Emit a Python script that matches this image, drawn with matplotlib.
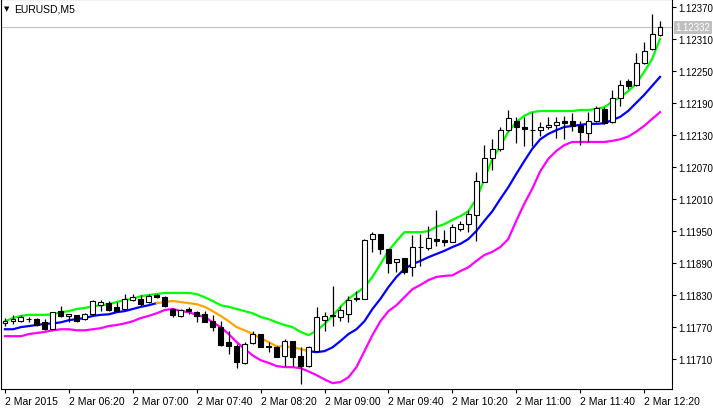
import numpy as np
import matplotlib
matplotlib.use('Agg')
import matplotlib.pyplot as plt

plt.rcParams['font.family'] = ['Liberation Sans', 'DejaVu Sans']

BASE = 1.11700  # prices below are in points (1e-5) above this

# OHLC, one entry per M5 bar
opens = [78, 81, 81, 85, 85, 79, 66, 100, 91, 92,
         85, 94, 111, 115, 108, 104, 121, 123, 117, 130,
         126, 104, 91, 104, 98, 94, 81, 70, 42, 34,
         2, 40, 57, 34, 32, 16, 44, 16, -3, 25,
         83, 91, 89, 94, 122, 122, 235, 244, 216, 192,
         199, 183, 220, 218, 235, 233, 229, 254, 263, 280,
         342, 387, 404, 439, 456, 445, 439, 439, 445, 449,
         456, 456, 449, 434, 456, 479, 454, 499, 531, 524,
         565, 591, 617]
highs = [87, 93, 93, 89, 87, 85, 98, 109, 94, 92,
         96, 121, 121, 119, 117, 132, 132, 130, 132, 132,
         128, 106, 104, 108, 100, 100, 93, 81, 62, 38,
         42, 62, 57, 42, 34, 47, 44, 33, 34, 108,
         98, 147, 109, 128, 138, 235, 248, 244, 216, 197,
         199, 243, 244, 259, 289, 252, 263, 269, 289, 361,
         411, 422, 445, 477, 464, 464, 473, 454, 464, 464,
         466, 471, 456, 473, 484, 482, 514, 533, 535, 584,
         604, 657, 644]
lows = [72, 76, 79, 79, 72, 64, 66, 89, 79, 79,
        83, 92, 100, 100, 98, 104, 119, 109, 115, 124,
        108, 89, 89, 94, 79, 79, 62, 34, 19, -7,
        1, 38, 32, 23, 14, -3, -3, -37, -5, 23,
        62, 72, 81, 79, 119, 122, 211, 207, 171, 173,
        169, 166, 184, 214, 222, 222, 229, 250, 248, 231,
        342, 364, 400, 437, 415, 409, 409, 428, 441, 424,
        422, 437, 411, 417, 454, 451, 452, 484, 516, 522,
        563, 589, 616]
closes = [81, 85, 89, 86, 74, 66, 98, 91, 94, 81,
          94, 119, 117, 102, 100, 123, 126, 113, 128, 126,
          109, 93, 102, 100, 91, 79, 70, 36, 34, 4,
          38, 57, 32, 32, 14, 44, 14, -3, 32, 89,
          91, 93, 102, 121, 124, 233, 244, 216, 190, 197,
          173, 220, 221, 237, 231, 229, 258, 263, 282, 344,
          387, 404, 439, 462, 445, 441, 440, 445, 449, 454,
          453, 447, 436, 456, 481, 453, 499, 524, 522, 565,
          587, 619, 632]

# channel: upper, middle, lower
upper = [81, 87, 91, 93, 93, 93, 94, 98, 100, 104,
         106, 109, 111, 113, 117, 121, 123, 128, 130, 132,
         134, 134, 134, 134, 132, 126, 119, 111, 108, 104,
         100, 96, 89, 85, 79, 74, 70, 61, 55, 63,
         76, 91, 108, 123, 134, 145, 164, 188, 213, 231,
         248, 248, 248, 250, 258, 263, 271, 278, 287, 310,
         347, 385, 409, 436, 454, 466, 473, 475, 475, 475,
         475, 475, 477, 477, 479, 482, 492, 501, 512, 526,
         548, 572, 610]
middle = [66, 66, 70, 72, 74, 76, 77, 79, 83, 85,
          87, 91, 93, 94, 98, 100, 104, 108, 111, 115,
          117, 119, 117, 115, 113, 108, 100, 91, 81, 70,
          64, 57, 49, 42, 34, 34, 32, 29, 25, 23,
          25, 32, 44, 57, 66, 81, 104, 123, 145, 164,
          179, 188, 194, 201, 207, 213, 220, 226, 235, 250,
          269, 287, 310, 332, 357, 381, 404, 422, 432, 439,
          445, 447, 449, 451, 451, 452, 458, 464, 475, 490,
          505, 522, 539]
lower = [53, 53, 53, 57, 59, 61, 64, 66, 66, 64,
         64, 66, 68, 72, 74, 77, 81, 87, 91, 96,
         102, 104, 100, 98, 93, 89, 79, 70, 57, 42,
         29, 17, 8, 3, -3, -5, -5, -7, -13, -20,
         -28, -35, -33, -24, -5, 25, 55, 81, 100, 111,
         126, 141, 149, 158, 164, 166, 167, 175, 182, 194,
         205, 211, 220, 235, 269, 301, 329, 362, 385, 400,
         411, 417, 417, 417, 417, 417, 419, 422, 427, 436,
         447, 460, 473]
falling_from, falling_to = 19, 38  # middle line drawn orange here

time_labels = ['2 Mar 2015', '2 Mar 06:20', '2 Mar 07:00', '2 Mar 07:40',
               '2 Mar 08:20', '2 Mar 09:00', '2 Mar 09:40', '2 Mar 10:20',
               '2 Mar 11:00', '2 Mar 11:40', '2 Mar 12:20']
price_ticks = [1.11710, 1.11770, 1.11830, 1.11890, 1.11950, 1.12010,
               1.12070, 1.12130, 1.12190, 1.12250, 1.12310, 1.12370]
last_price = 1.12332

to_price = lambda a: BASE + np.array(a) / 1e5
o, h, l, c = map(to_price, (opens, highs, lows, closes))
up, mid, lo = map(to_price, (upper, middle, lower))
n = len(c)
x = np.arange(n)

fig = plt.figure(figsize=(7.13, 4.10), dpi=100)
ax = fig.add_axes([1 / 713, 20 / 410, 671 / 713, 390 / 410])
ax.set_xlim(-0.5, 83.5)
ylo, yhi = BASE - 0.00046, BASE + 0.00685
ax.set_ylim(ylo, yhi)

ax.axhline(last_price, color='#c0c0c0', lw=0.8, zorder=0)

lw = 1.6
ax.plot(x, up, color='#00ff00', lw=lw, zorder=3)
ax.plot(x[:falling_from + 1], mid[:falling_from + 1], color='#0000ff', lw=lw, zorder=3)
ax.plot(x[falling_from:falling_to + 1], mid[falling_from:falling_to + 1],
        color='#ffa500', lw=lw, zorder=3)
ax.plot(x[falling_to:], mid[falling_to:], color='#0000ff', lw=lw, zorder=3)
ax.plot(x, lo, color='#ff00ff', lw=lw, zorder=3)

# candles
for i in range(n):
    ax.vlines(x[i], l[i], h[i], color='black', lw=0.9, zorder=4)
    bottom = min(o[i], c[i])
    height = max(abs(c[i] - o[i]), 0.000008)
    face = 'white' if c[i] >= o[i] else 'black'
    ax.bar(x[i], height, bottom=bottom, width=0.62, color=face,
           edgecolor='black', linewidth=0.8, zorder=5)

ax.yaxis.tick_right()
ax.set_yticks(price_ticks)
ax.set_yticklabels(['%.5f' % p for p in price_ticks])
ax.set_xticks(np.arange(0, 81, 8))
ax.set_xticklabels(time_labels, ha='left')
ax.tick_params(axis='both', labelsize=7, length=3, width=0.8, pad=1.5)
ax.tick_params(axis='x', pad=2, labelsize=7.5)
for sp in ax.spines.values():
    sp.set_linewidth(0.8)

ax.text(1.005, (last_price - ylo) / (yhi - ylo),
        '%.5f' % last_price, transform=ax.transAxes, fontsize=7, color='white',
        va='center', ha='left',
        bbox=dict(boxstyle='square,pad=0.15', fc='#c0c0c0', ec='none'))
ax.text(0.004, 0.985, '\u25BC', transform=ax.transAxes, fontsize=5, va='top',
        family='DejaVu Sans')
ax.text(0.02, 0.988, 'EURUSD,M5', transform=ax.transAxes, fontsize=7.5, va='top')

fig.savefig('out.png', dpi=100)
